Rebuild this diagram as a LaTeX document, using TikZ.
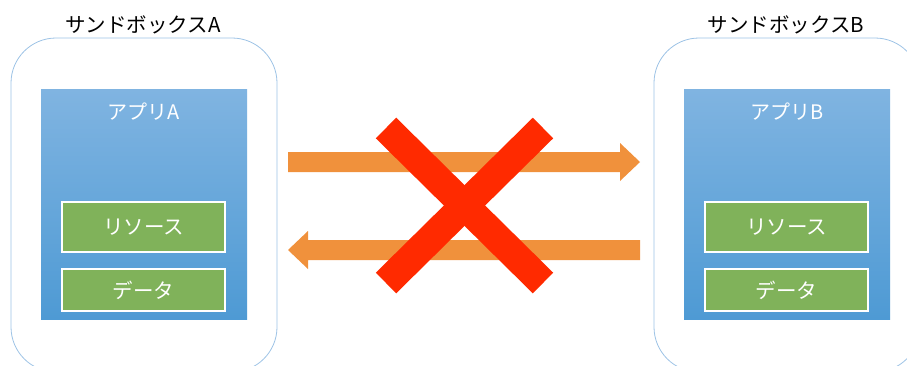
\documentclass[tikz,border=0pt]{standalone}
\usepackage{fontspec}
\newfontfamily\jp{Noto Sans CJK JP}
\definecolor{sbline}{HTML}{9DC3E6}
\definecolor{apptop}{HTML}{80B4E1}
\definecolor{appbot}{HTML}{4E9AD4}
\definecolor{resgreen}{HTML}{80B25A}
\definecolor{arroworange}{HTML}{F0913C}
\definecolor{crossred}{HTML}{FF2A00}
\tikzset{
  sandbox/.style={draw=sbline, line width=0.8pt, rounded corners=45pt, fill=white, inner sep=0pt},
  sbtitle/.style={font=\jp\fontsize{20.5}{24}\selectfont, text=black, inner sep=0pt},
  app/.style={top color=apptop, bottom color=appbot, draw=none, inner sep=0pt, minimum width=206pt},
  apptitle/.style={font=\jp\fontsize{20}{24}\selectfont, text=white, inner sep=0pt},
  res/.style={fill=resgreen, draw=white, line width=1.6pt, minimum width=163pt, inner sep=0pt,
    font=\jp\fontsize{20.5}{24}\selectfont, text=white},
  flow/.style={fill=arroworange, draw=none},
  cross/.style={draw=crossred, line width=29pt}
}
\begin{document}
\begin{tikzpicture}[x=1pt,y=-1pt]
\useasboundingbox (0,0) rectangle (907,365);
\clip (0,0) rectangle (907,365);
% sandboxes
\node[sandbox, minimum width=266pt, minimum height=334pt] (sbA) at (144,205) {};
\node[sandbox, minimum width=266pt, minimum height=334pt] (sbB) at (787,205) {};
\node[sbtitle] (labA) at (143,25) {サンドボックスA};
\node[sbtitle] (labB) at (786,25) {サンドボックスB};
% apps
\node[app, minimum height=230pt] (appA) at (144,204) {};
\node[app, minimum height=230pt] (appB) at (787,204) {};
\node[apptitle] (titA) at (144,112) {アプリA};
\node[apptitle] (titB) at (787,112) {アプリB};
% resources and data
\node[res, minimum height=50pt] (resA) at (143.5,227) {リソース};
\node[res, minimum height=42pt] (datA) at (143.5,290) {データ};
\node[res, minimum height=50pt] (resB) at (786.5,227) {リソース};
\node[res, minimum height=42pt] (datB) at (786.5,290) {データ};
% arrows
\fill[flow] (288,152) -- (620,152) -- (620,143) -- (640,162) -- (620,181) -- (620,172) -- (288,172) -- cycle;
\fill[flow] (640,240) -- (308,240) -- (308,231) -- (288,250) -- (308,269) -- (308,260) -- (640,260) -- cycle;
% cross
\coordinate (x1) at (386,128);
\coordinate (x2) at (543,283);
\coordinate (x3) at (543,128);
\coordinate (x4) at (386,283);
\draw[cross] (x1) -- (x2);
\draw[cross] (x3) -- (x4);
\end{tikzpicture}
\end{document}
